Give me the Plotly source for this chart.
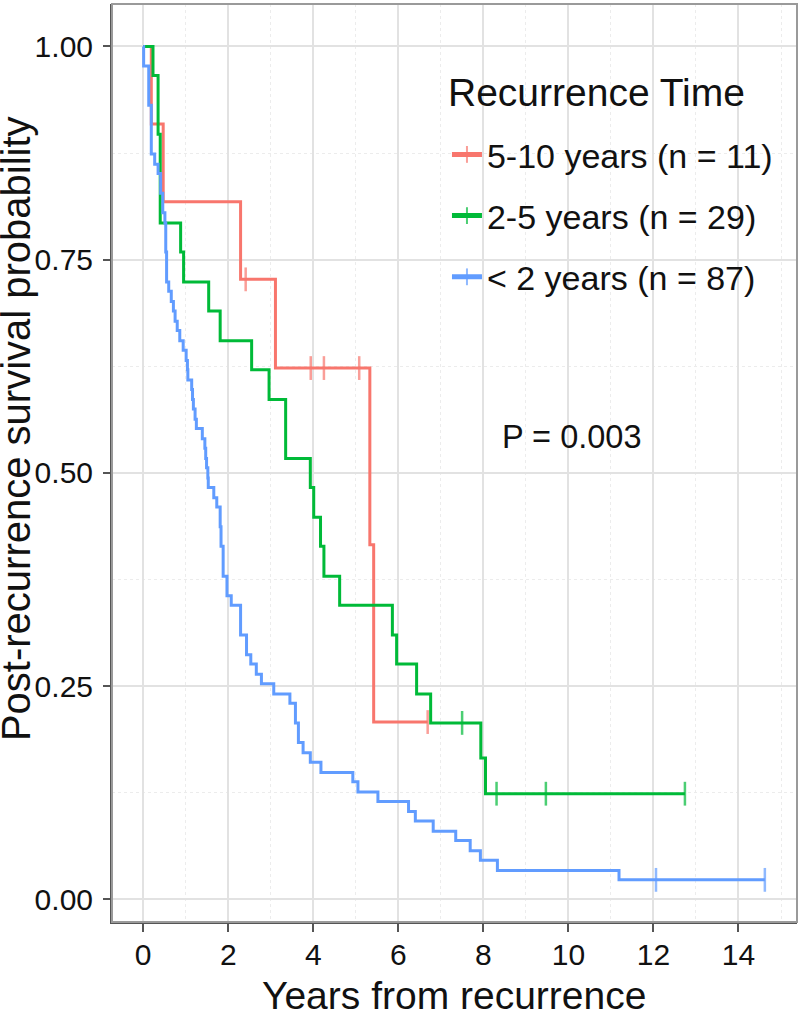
import plotly.graph_objects as go

# ---- data (Kaplan-Meier steps) ----
# 5-10 years (n = 11)
red_time = [0, 0.19, 0.47, 2.29, 2.41, 3.11, 3.94, 4.25, 5.08, 5.33, 5.42, 6.69]
red_surv = [1.0, 0.909, 0.818, 0.727, 0.727, 0.623, 0.623, 0.623, 0.623, 0.416, 0.208, 0.208]
red_cens = [0, 0, 0, 0, 1, 0, 1, 1, 1, 0, 0, 1]

# 2-5 years (n = 29)
green_time = [0, 0.23, 0.35, 0.40, 0.88, 0.95, 1.54, 1.81, 2.55, 2.96, 3.35, 3.93, 4.01,
              4.17, 4.25, 4.62, 5.86, 5.96, 6.43, 6.76, 7.50, 7.94, 8.05, 8.31, 9.47, 12.74]
green_surv = [1.0, 0.966, 0.897, 0.793, 0.759, 0.724, 0.690, 0.655, 0.621, 0.586, 0.517, 0.483, 0.448,
              0.414, 0.379, 0.345, 0.310, 0.276, 0.241, 0.207, 0.207, 0.166, 0.124, 0.124, 0.124, 0.124]
green_cens = [0, 0, 0, 0, 0, 0, 0, 0, 0, 0, 0, 0, 0,
              0, 0, 0, 0, 0, 0, 0, 1, 0, 0, 1, 1, 1]

# < 2 years (n = 87)
blue_time = [0, 0.01, 0.13, 0.19, 0.27, 0.35, 0.41, 0.46, 0.51, 0.53, 0.55, 0.60, 0.66, 0.71,
             0.75, 0.80, 0.86, 0.94, 1.01, 1.04, 1.05, 1.14, 1.16, 1.18, 1.22, 1.25, 1.39, 1.45,
             1.47, 1.49, 1.52, 1.53, 1.66, 1.73, 1.81, 1.83, 1.88, 1.97, 2.07, 2.29, 2.43, 2.53,
             2.66, 2.78, 3.07, 3.45, 3.58, 3.65, 3.76, 3.93, 4.18, 4.93, 5.05, 5.52, 6.24, 6.40,
             6.82, 7.35, 7.69, 7.93, 8.33, 11.19, 12.06, 14.62]
blue_surv = [1.0, 0.977, 0.931, 0.874, 0.862, 0.851, 0.828, 0.805, 0.793, 0.759, 0.724, 0.713, 0.701, 0.690,
             0.678, 0.667, 0.655, 0.644, 0.632, 0.621, 0.609, 0.598, 0.586, 0.575, 0.563, 0.552, 0.540, 0.529,
             0.517, 0.506, 0.494, 0.483, 0.471, 0.460, 0.437, 0.414, 0.379, 0.356, 0.345, 0.310, 0.287, 0.276,
             0.264, 0.253, 0.241, 0.230, 0.207, 0.184, 0.172, 0.161, 0.149, 0.138, 0.126, 0.115, 0.103, 0.092,
             0.080, 0.069, 0.057, 0.046, 0.034, 0.023, 0.023, 0.023]
blue_cens = [0] * 62 + [1, 1]

series_names = ["5-10 years (n = 11)", "2-5 years (n = 29)", "&lt; 2 years (n = 87)"]
series_colors = ["#F8766D", "#00BA38", "#619CFF"]
legend_title = "Recurrence Time"

x_tick_vals = [0, 2, 4, 6, 8, 10, 12, 14]
x_tick_text = ["0", "2", "4", "6", "8", "10", "12", "14"]
y_tick_vals = [0.0, 0.25, 0.5, 0.75, 1.0]
y_tick_text = ["0.00", "0.25", "0.50", "0.75", "1.00"]

x_title = "Years from recurrence"
y_title = "Post-recurrence survival probability"
p_label = "P = 0.003"

FONT = "Liberation Sans, Arial, sans-serif"

fig = go.Figure()
data = [(red_time, red_surv, red_cens), (green_time, green_surv, green_cens), (blue_time, blue_surv, blue_cens)]
for (t, s, c), name, color in zip(data, series_names, series_colors):
    sizes = [17 if f else 0 for f in c]
    fig.add_trace(go.Scatter(
        x=t, y=s, mode="lines+markers", name=name, legendgroup=name,
        line=dict(color=color, width=3, shape="hv"),
        marker=dict(symbol="line-ns", size=sizes, color=color, line=dict(color=color, width=2.5)),
    ))

fig.add_annotation(x=8.39, y=0.542, xref="x", yref="y", text=p_label, showarrow=False,
                   xanchor="left", yanchor="middle", font=dict(size=32.5, color="#111111", family=FONT))
# legend title
fig.add_annotation(x=0.487, y=0.904, xref="paper", yref="paper", text=legend_title, showarrow=False,
                   xanchor="left", yanchor="middle", font=dict(size=39, color="#111111", family=FONT))
# axis titles
fig.add_annotation(x=-0.1401, y=0.537, xref="paper", yref="paper", text=y_title, showarrow=False,
                   textangle=-90, xanchor="center", yanchor="middle",
                   font=dict(size=40, color="#111111", family=FONT))
fig.add_annotation(x=0.4996, y=-0.0798, xref="paper", yref="paper", text=x_title, showarrow=False,
                   xanchor="center", yanchor="middle",
                   font=dict(size=39, color="#111111", family=FONT))

fig.update_layout(
    width=800, height=1011,
    margin=dict(l=112, r=3, t=4, b=89),
    paper_bgcolor="white", plot_bgcolor="white",
    font=dict(family=FONT, color="#111111"),
    showlegend=True,
    legend=dict(x=0.489, y=0.8673, xanchor="left", yanchor="top", bgcolor="rgba(0,0,0,0)",
                font=dict(size=34, family=FONT),
                tracegroupgap=14, itemsizing="constant", itemwidth=30),
    shapes=[
        # white legend box hiding the grid behind the legend
        dict(type="rect", xref="paper", yref="paper", x0=0.4788, x1=0.9825, y0=0.659, y1=0.939,
             line=dict(width=0), fillcolor="white", layer="between"),
        dict(type="rect", xref="paper", yref="paper", x0=0, x1=1, y0=0, y1=1,
             line=dict(color="#9a9a9a", width=2), layer="above"),
    ],
)
fig.update_xaxes(
    range=[-0.734, 15.376], tickmode="array", tickvals=x_tick_vals, ticktext=x_tick_text,
    showgrid=True, gridcolor="#e2e2e2", gridwidth=1.5,
    minor=dict(tickmode="linear", tick0=0, dtick=1, showgrid=True, gridcolor="#ececec", griddash="dot", gridwidth=1),
    zeroline=False, showline=True, linecolor="#555555", linewidth=2,
    ticks="outside", ticklen=8, tickwidth=2, tickcolor="#555555",
    tickfont=dict(size=30, family=FONT, color="#111111"), ticklabelstandoff=-3,
    automargin=False,
)
fig.update_yaxes(
    range=[-0.0264, 1.0498], tickmode="array", tickvals=y_tick_vals, ticktext=y_tick_text,
    showgrid=True, gridcolor="#e2e2e2", gridwidth=1.5,
    minor=dict(tickmode="linear", tick0=0, dtick=0.125, showgrid=True, gridcolor="#ececec", griddash="dot", gridwidth=1),
    zeroline=False, showline=True, linecolor="#555555", linewidth=2,
    ticks="outside", ticklen=7, tickwidth=2, tickcolor="#555555",
    tickfont=dict(size=30, family=FONT, color="#111111"), ticklabelstandoff=4,
    automargin=False,
)

fig.write_html("out.html", config={"displayModeBar": False},
               post_script="document.body.style.margin='0px';")
